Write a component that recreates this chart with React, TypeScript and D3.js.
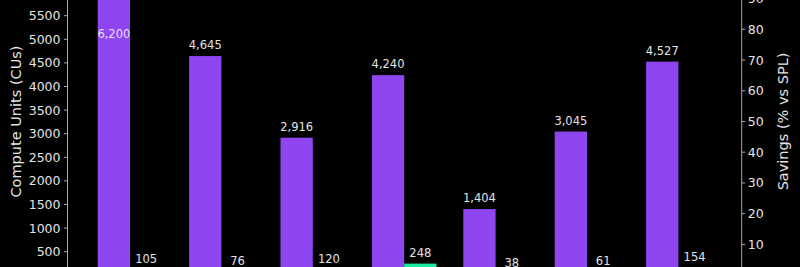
import React from "react";
import * as d3 from "d3";

const categories = ["A", "B", "C", "D", "E", "F", "G"];
const splCU = [6200, 4645, 2916, 4240, 1404, 3045, 4527];
const optCU = [105, 76, 120, 248, 38, 61, 154];
const leftTicks = [500, 1000, 1500, 2000, 2500, 3000, 3500, 4000, 4500, 5000, 5500, 6000];
const rightTicks = [10, 20, 30, 40, 50, 60, 70, 80, 90];

const W = 800;
const H = 267;
const PURPLE = "#8f45ef";
const GREEN = "#19eaa0";
const TEXT = "#e4e4e4";
const SPINE = "#a8a8a8";
const FONT = "DejaVu Sans, sans-serif";

export default function App() {
  const yL = d3.scaleLinear().domain([0, 5500]).range([275.3, 15.7]);
  const yR = d3.scaleLinear().domain([0, 80]).range([275.1, 29.3]);
  const x = d3.scaleLinear().domain([0, 1]).range([97.7, 189.1]);
  const bw = 32.3;
  const leftX = 67.5;
  const rightX = 741.7;
  const fmt = d3.format(",");
  const labelCap = yL(5030);

  return (
    <svg
      width={W}
      height={H}
      style={{ position: "absolute", left: 0, top: 0, background: "#000" }}
      fontFamily={FONT}
    >
      <rect x={0} y={0} width={W} height={H} fill="#000" />
      {categories.map((c, i) => {
        const top = yL(splCU[i]);
        const over = top - 7 < 20;
        return (
          <g key={c}>
            <rect x={x(i)} y={top} width={bw} height={yL(0) - top} fill={PURPLE} />
            <rect
              x={x(i) + bw}
              y={yL(optCU[i])}
              width={bw}
              height={yL(0) - yL(optCU[i])}
              fill={GREEN}
            />
            <text
              x={x(i) + bw / 2}
              y={over ? labelCap : top - 7}
              textAnchor="middle"
              fontSize={11.5}
              fill={over ? "#eadfff" : TEXT}
            >
              {fmt(splCU[i])}
            </text>
            <text
              x={x(i) + bw * 1.5}
              y={yL(optCU[i]) - 7}
              textAnchor="middle"
              fontSize={11.5}
              fill={TEXT}
            >
              {fmt(optCU[i])}
            </text>
          </g>
        );
      })}
      <line x1={leftX} x2={leftX} y1={0} y2={H} stroke={SPINE} strokeWidth={1} />
      {leftTicks.map((t) => (
        <g key={t} transform={`translate(0,${yL(t)})`}>
          <line x1={leftX - 3.5} x2={leftX} stroke={SPINE} strokeWidth={1} />
          <text x={leftX - 7} dy="0.36em" textAnchor="end" fontSize={12.5} fill={TEXT}>
            {t}
          </text>
        </g>
      ))}
      <line x1={rightX} x2={rightX} y1={0} y2={H} stroke={SPINE} strokeWidth={1} />
      {rightTicks.map((t) => (
        <g key={t} transform={`translate(0,${yR(t)})`}>
          <line x1={rightX} x2={rightX + 3.5} stroke={SPINE} strokeWidth={1} />
          <text x={rightX + 6} dy="0.36em" textAnchor="start" fontSize={12.5} fill={TEXT}>
            {t}
          </text>
        </g>
      ))}
      <text
        transform={`translate(21,121.5) rotate(-90)`}
        textAnchor="middle"
        fontSize={14.5}
        fill={TEXT}
      >
        Compute Units (CUs)
      </text>
      <text
        transform={`translate(788,121.5) rotate(-90)`}
        textAnchor="middle"
        fontSize={14.5}
        fill={TEXT}
      >
        Savings (% vs SPL)
      </text>
    </svg>
  );
}
